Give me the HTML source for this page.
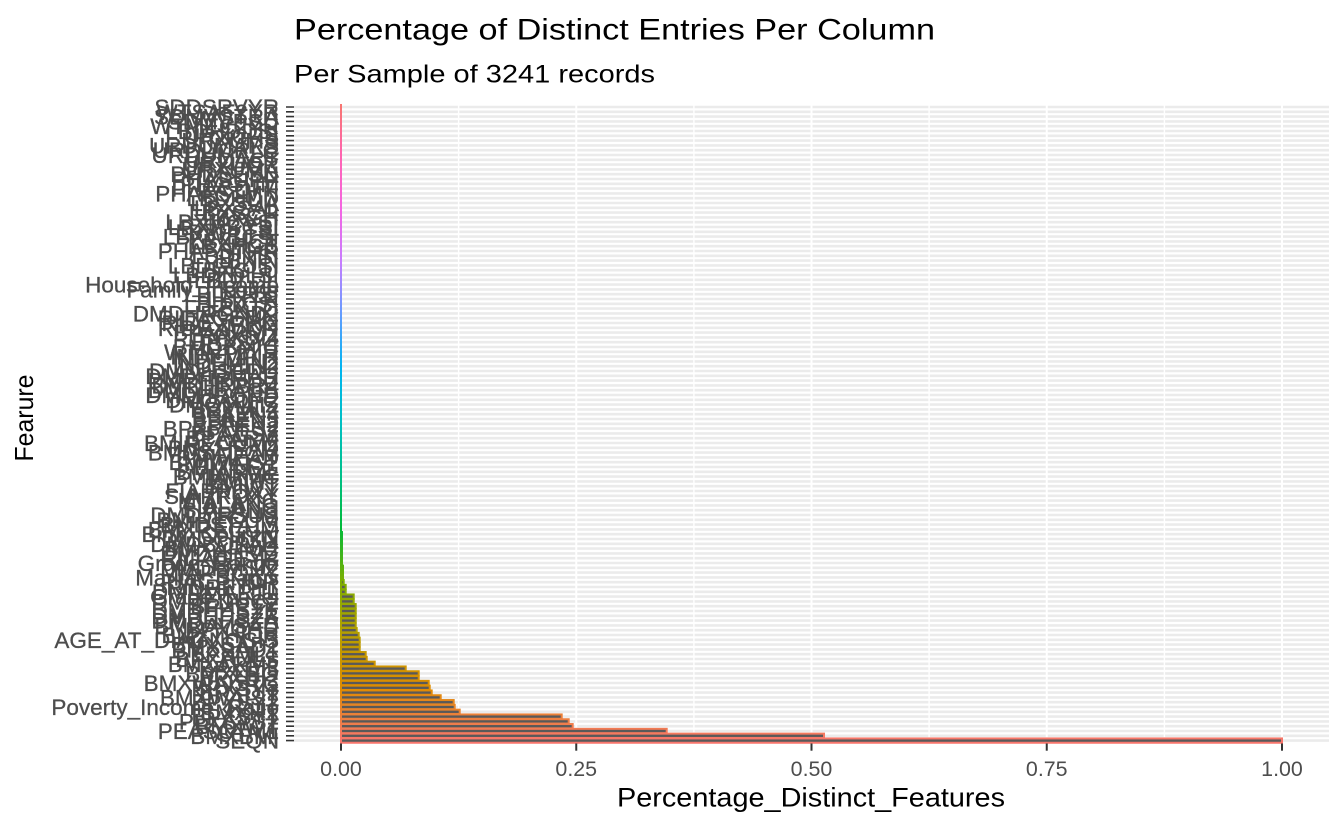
<!DOCTYPE html>
<html>
<head>
<meta charset="utf-8">
<style>
  html,body{margin:0;padding:0;background:#ffffff;}
  svg{display:block;}
  text{font-family:"Liberation Sans", Arial, sans-serif;}
</style>
</head>
<body>
<svg width="1344" height="830" viewBox="0 0 1344 830" xmlns="http://www.w3.org/2000/svg">
  <defs>
    <linearGradient id="hue" gradientUnits="userSpaceOnUse" x1="0" y1="740.6" x2="0" y2="102.2">
      <stop offset="0" stop-color="#F8766D"/>
      <stop offset="0.08333" stop-color="#DE8C00"/>
      <stop offset="0.16667" stop-color="#B79F00"/>
      <stop offset="0.25" stop-color="#7CAE00"/>
      <stop offset="0.33333" stop-color="#00BA38"/>
      <stop offset="0.41667" stop-color="#00C08B"/>
      <stop offset="0.5" stop-color="#00BFC4"/>
      <stop offset="0.58333" stop-color="#00B4F0"/>
      <stop offset="0.66667" stop-color="#619CFF"/>
      <stop offset="0.75" stop-color="#C77CFF"/>
      <stop offset="0.83333" stop-color="#F564E3"/>
      <stop offset="0.91667" stop-color="#FF64B0"/>
      <stop offset="1" stop-color="#F8766D"/>
    </linearGradient>
  </defs>

  <rect x="0" y="0" width="1344" height="830" fill="#ffffff"/>

  <!-- Title / subtitle -->
  <text x="294" y="39.3" font-size="30" fill="#000000" textLength="641" lengthAdjust="spacingAndGlyphs">Percentage of Distinct Entries Per Column</text>
  <text x="294" y="82.7" font-size="25" fill="#000000" textLength="361" lengthAdjust="spacingAndGlyphs">Per Sample of 3241 records</text>

  <!-- horizontal grid lines (one per category) -->
  <line x1="811.5" y1="741.9" x2="811.5" y2="104.4" stroke="#EBEBEB" stroke-width="1035" stroke-dasharray="2.6 2.2"/>

  <!-- vertical grid lines (white) -->
  <g stroke="#FFFFFF">
    <line x1="458.6" y1="104" x2="458.6" y2="743.5" stroke-width="1.4"/>
    <line x1="693.9" y1="104" x2="693.9" y2="743.5" stroke-width="1.4"/>
    <line x1="929.1" y1="104" x2="929.1" y2="743.5" stroke-width="1.4"/>
    <line x1="1164.4" y1="104" x2="1164.4" y2="743.5" stroke-width="1.4"/>
    <line x1="341" y1="104" x2="341" y2="743.5" stroke-width="2"/>
    <line x1="576.25" y1="104" x2="576.25" y2="743.5" stroke-width="2"/>
    <line x1="811.5" y1="104" x2="811.5" y2="743.5" stroke-width="2"/>
    <line x1="1046.75" y1="104" x2="1046.75" y2="743.5" stroke-width="2"/>
    <line x1="1282" y1="104" x2="1282" y2="743.5" stroke-width="2"/>
  </g>

  <!-- zero-valued bars (outline line) -->
  <line x1="341" y1="533" x2="341" y2="104" stroke="url(#hue)" stroke-width="2"/>

  <!-- bars -->
  <g fill="#595959" stroke="url(#hue)" stroke-width="2">
    <rect x="341" y="532.04" width="1" height="4.32"/>
    <rect x="341" y="536.84" width="1" height="4.32"/>
    <rect x="341" y="541.64" width="1" height="4.32"/>
    <rect x="341" y="546.44" width="1" height="4.32"/>
    <rect x="341" y="551.24" width="1" height="4.32"/>
    <rect x="341" y="556.04" width="1" height="4.32"/>
    <rect x="341" y="560.84" width="1" height="4.32"/>
    <rect x="341" y="565.64" width="2" height="4.32"/>
    <rect x="341" y="570.44" width="2" height="4.32"/>
    <rect x="341" y="575.24" width="2" height="4.32"/>
    <rect x="341" y="580.04" width="2.7" height="4.32"/>
    <rect x="341" y="584.84" width="4.7" height="4.32"/>
    <rect x="341" y="589.64" width="4.7" height="4.32"/>
    <rect x="341" y="594.44" width="12.7" height="4.32"/>
    <rect x="341" y="599.24" width="12.7" height="4.32"/>
    <rect x="341" y="604.04" width="14.7" height="4.32"/>
    <rect x="341" y="608.84" width="14.7" height="4.32"/>
    <rect x="341" y="613.64" width="14.7" height="4.32"/>
    <rect x="341" y="618.44" width="14.7" height="4.32"/>
    <rect x="341" y="623.24" width="14.7" height="4.32"/>
    <rect x="341" y="628.04" width="15.7" height="4.32"/>
    <rect x="341" y="632.84" width="17.7" height="4.32"/>
    <rect x="341" y="637.64" width="18.7" height="4.32"/>
    <rect x="341" y="642.44" width="18.7" height="4.32"/>
    <rect x="341" y="647.24" width="18.7" height="4.32"/>
    <rect x="341" y="652.04" width="24.7" height="4.32"/>
    <rect x="341" y="656.84" width="25.7" height="4.32"/>
    <rect x="341" y="661.64" width="33.7" height="4.32"/>
    <rect x="341" y="666.44" width="64.7" height="4.32"/>
    <rect x="341" y="671.24" width="77.7" height="4.32"/>
    <rect x="341" y="676.04" width="77.7" height="4.32"/>
    <rect x="341" y="680.84" width="87.7" height="4.32"/>
    <rect x="341" y="685.64" width="88.7" height="4.32"/>
    <rect x="341" y="690.44" width="90.7" height="4.32"/>
    <rect x="341" y="695.24" width="99.7" height="4.32"/>
    <rect x="341" y="700.04" width="112.7" height="4.32"/>
    <rect x="341" y="704.84" width="113.7" height="4.32"/>
    <rect x="341" y="709.64" width="118.7" height="4.32"/>
    <rect x="341" y="714.44" width="220.7" height="4.32"/>
    <rect x="341" y="719.24" width="227.7" height="4.32"/>
    <rect x="341" y="724.04" width="231.7" height="4.32"/>
    <rect x="341" y="728.84" width="325.7" height="4.32"/>
    <rect x="341" y="733.64" width="483" height="4.32"/>
    <rect x="341" y="738.44" width="941" height="4.32"/>
  </g>

  <!-- y-axis ticks -->
  <line x1="290" y1="741.4" x2="290" y2="104" stroke="#333333" stroke-width="8" stroke-dasharray="1.6 3.2"/>

  <!-- x-axis ticks -->
  <g stroke="#333333" stroke-width="2">
    <line x1="341" y1="743.5" x2="341" y2="750.7"/>
    <line x1="576.25" y1="743.5" x2="576.25" y2="750.7"/>
    <line x1="811.5" y1="743.5" x2="811.5" y2="750.7"/>
    <line x1="1046.75" y1="743.5" x2="1046.75" y2="750.7"/>
    <line x1="1282" y1="743.5" x2="1282" y2="750.7"/>
  </g>

  <!-- x tick labels -->
  <g font-size="21.4" fill="#4D4D4D" text-anchor="middle">
    <text x="341" y="776">0.00</text>
    <text x="576.25" y="776">0.25</text>
    <text x="811.5" y="776">0.50</text>
    <text x="1046.75" y="776">0.75</text>
    <text x="1282" y="776">1.00</text>
  </g>

  <!-- axis titles -->
  <text x="811" y="806.7" font-size="27" fill="#000000" text-anchor="middle" textLength="388" lengthAdjust="spacingAndGlyphs">Percentage_Distinct_Features</text>
  <text transform="translate(33,418) rotate(-90)" font-size="26" fill="#000000" text-anchor="middle" textLength="87" lengthAdjust="spacingAndGlyphs">Fearure</text>

  <!-- y tick labels -->
  <g font-size="22.5" fill="#4D4D4D" stroke="#4D4D4D" stroke-width="0.3" text-anchor="end">
    <text x="279" y="748.6">SEQN</text>
    <text x="279" y="743.8">BMXBMI</text>
    <text x="279" y="739.0">PEASCTM1</text>
    <text x="279" y="734.2">BMXWT</text>
    <text x="279" y="729.4">PLXSYS2</text>
    <text x="279" y="724.6">BPXSY1</text>
    <text x="279" y="719.8">BMXHT</text>
    <text x="279" y="715.0">Poverty_Income_Ratio</text>
    <text x="279" y="710.2">BPXSY2</text>
    <text x="279" y="705.4">BMXWAIST</text>
    <text x="279" y="700.6">BPXDI1</text>
    <text x="279" y="695.8">BPXSY3</text>
    <text x="279" y="691.0">BMXWAISTC</text>
    <text x="279" y="686.2">BPXDI2</text>
    <text x="279" y="681.4">BMXLEG</text>
    <text x="279" y="676.6">BPXDI3</text>
    <text x="279" y="671.8">BMXARML</text>
    <text x="279" y="667.0">BPXPULS</text>
    <text x="279" y="662.2">BPXML1</text>
    <text x="279" y="657.4">BMXSAD1</text>
    <text x="279" y="652.6">BMXSAD2</text>
    <text x="279" y="647.8">AGE_AT_DIAGNOSIS</text>
    <text x="279" y="643.0">BMXTHICR</text>
    <text x="279" y="638.2">BPXCHR</text>
    <text x="279" y="633.4">BMDAVSAD</text>
    <text x="279" y="628.6">DMDHHSZA</text>
    <text x="279" y="623.8">DMDHHSZB</text>
    <text x="279" y="619.0">DMDHHSZE</text>
    <text x="279" y="614.2">BPXPTY</text>
    <text x="279" y="609.4">DMDEDUC2</text>
    <text x="279" y="604.6">Grade_Level</text>
    <text x="279" y="599.8">DMDMARTL</text>
    <text x="279" y="595.0">RIDRETH1</text>
    <text x="279" y="590.2">RIAGENDR</text>
    <text x="279" y="585.4">Marital_Status</text>
    <text x="279" y="580.6">MIAPROXY</text>
    <text x="279" y="575.8">DMDFMSIZ</text>
    <text x="279" y="571.0">Grade_Range</text>
    <text x="279" y="566.2">RIDAGEYR</text>
    <text x="279" y="561.4">DMDHHSIZ</text>
    <text x="279" y="556.6">BMXARMC</text>
    <text x="279" y="551.8">DMDBORN4</text>
    <text x="279" y="547.0">DMDCITZN</text>
    <text x="279" y="542.2">Birth_Country</text>
    <text x="279" y="537.4">BMXRECUM</text>
    <text x="279" y="532.6">BMDSTATS</text>
    <text x="279" y="527.8">BMIRECUM</text>
    <text x="279" y="523.0">DMDYRSUS</text>
    <text x="279" y="518.2">SIALANG</text>
    <text x="279" y="513.4">FIALANG</text>
    <text x="279" y="508.6">MIALANG</text>
    <text x="279" y="503.8">SIAPROXY</text>
    <text x="279" y="499.0">FIAPROXY</text>
    <text x="279" y="494.2">BMIWT</text>
    <text x="279" y="489.4">BMIHT</text>
    <text x="279" y="484.6">BMIARMC</text>
    <text x="279" y="479.8">BMIARML</text>
    <text x="279" y="475.0">BMILEG</text>
    <text x="279" y="470.2">BMIWAIST</text>
    <text x="279" y="465.4">BMIHEAD</text>
    <text x="279" y="460.6">BMDSADCM</text>
    <text x="279" y="455.8">BMXHEAD</text>
    <text x="279" y="451.0">BMIRECUM2</text>
    <text x="279" y="446.2">BPAARM</text>
    <text x="279" y="441.4">BPACSZ</text>
    <text x="279" y="436.6">BPXPULS2</text>
    <text x="279" y="431.8">BPAEN2</text>
    <text x="279" y="427.0">BPAEN3</text>
    <text x="279" y="422.2">BPAEN4</text>
    <text x="279" y="417.4">BPXML2</text>
    <text x="279" y="412.6">DMQMILIZ</text>
    <text x="279" y="407.8">DMQADFC</text>
    <text x="279" y="403.0">DMDHRGND</text>
    <text x="279" y="398.2">DMDHRAGE</text>
    <text x="279" y="393.4">DMDHRBR4</text>
    <text x="279" y="388.6">DMDHREDU</text>
    <text x="279" y="383.8">DMDHRMAR</text>
    <text x="279" y="379.0">DMDHSEDU</text>
    <text x="279" y="374.2">INDHHIN2</text>
    <text x="279" y="369.4">INDFMIN2</text>
    <text x="279" y="364.6">INDFMPIR</text>
    <text x="279" y="359.8">WTINT2YR</text>
    <text x="279" y="355.0">BMDBMIC</text>
    <text x="279" y="350.2">BPXSY4</text>
    <text x="279" y="345.4">BPXDI4</text>
    <text x="279" y="340.6">BPAARM2</text>
    <text x="279" y="335.8">RIDEXMON</text>
    <text x="279" y="331.0">RIDEXPRG</text>
    <text x="279" y="326.2">RIDAGEMN</text>
    <text x="279" y="321.4">DMDHRGND2</text>
    <text x="279" y="316.6">LBXTC</text>
    <text x="279" y="311.8">LBDTCSI</text>
    <text x="279" y="307.0">LBXTR</text>
    <text x="279" y="302.2">LBDTRSI</text>
    <text x="279" y="297.4">Family_Income</text>
    <text x="279" y="292.6">Household_Income</text>
    <text x="279" y="287.8">LBDLDL</text>
    <text x="279" y="283.0">LBDLDLSI</text>
    <text x="279" y="278.2">LBXGLU</text>
    <text x="279" y="273.4">LBDGLUSI</text>
    <text x="279" y="268.6">LBXIN</text>
    <text x="279" y="263.8">LBDINSI</text>
    <text x="279" y="259.0">PHAFSTHR</text>
    <text x="279" y="254.2">LBXHGB</text>
    <text x="279" y="249.4">LBXHCT</text>
    <text x="279" y="244.6">LBXWBCSI</text>
    <text x="279" y="239.8">LBXPLTSI</text>
    <text x="279" y="235.0">LBXRBCSI</text>
    <text x="279" y="230.2">LBXMCVSI</text>
    <text x="279" y="225.4">LBXGH</text>
    <text x="279" y="220.6">LBXSCR</text>
    <text x="279" y="215.8">LBXSAL</text>
    <text x="279" y="211.0">LBXSUA</text>
    <text x="279" y="206.2">LBDHDD</text>
    <text x="279" y="201.4">PHAFSTMN</text>
    <text x="279" y="196.6">PHACOFF</text>
    <text x="279" y="191.8">PHAGUM</text>
    <text x="279" y="187.0">PHASUPP</text>
    <text x="279" y="182.2">PHDSESN</text>
    <text x="279" y="177.4">URXUMA</text>
    <text x="279" y="172.6">URXUCR</text>
    <text x="279" y="167.8">URDACT</text>
    <text x="279" y="163.0">URDUMALC</text>
    <text x="279" y="158.2">URDUCRLC</text>
    <text x="279" y="153.4">URDUMARS</text>
    <text x="279" y="148.6">URXUMS</text>
    <text x="279" y="143.8">URXCRS</text>
    <text x="279" y="139.0">LBDHDDSI</text>
    <text x="279" y="134.2">WTMEC2YR</text>
    <text x="279" y="129.4">SDMVPSU</text>
    <text x="279" y="124.6">SDMVSTRA</text>
    <text x="279" y="119.8">WTSAF2YR</text>
    <text x="279" y="115.0">SDDSRVYR</text>
  </g>
</svg>
</body>
</html>
